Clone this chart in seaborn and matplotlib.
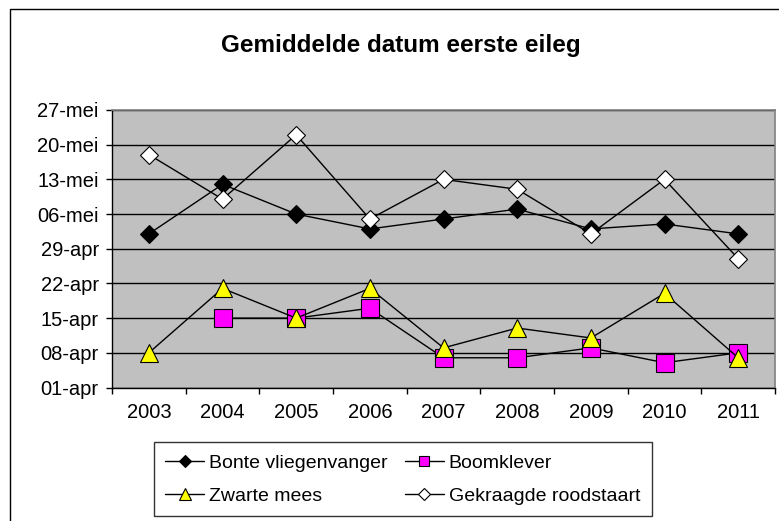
import seaborn as sns
import matplotlib.pyplot as plt
import pandas as pd
from matplotlib.patches import Rectangle

#Estilo
sns.set_theme(style="white")
plt.rcParams['font.family'] = ['Liberation Sans', 'DejaVu Sans']
plt.rcParams.update({'text.color': 'black', 'xtick.color': 'black',
                     'ytick.color': 'black', 'axes.labelcolor': 'black'})

#Dados (dias depois de 01-apr)
jaren = [2003, 2004, 2005, 2006, 2007, 2008, 2009, 2010, 2011]
bonte = [31, 41, 35, 32, 34, 36, 32, 33, 31]
boomklever = [None, 14, 14, 16, 6, 6, 8, 5, 7]
zwarte_mees = [7, 20, 14, 20, 8, 12, 10, 19, 6]
gekraagde = [47, 38, 51, 34, 42, 40, 31, 42, 26]
y_ticks = [0, 7, 14, 21, 28, 35, 42, 49, 56]
y_labels = ['01-apr', '08-apr', '15-apr', '22-apr', '29-apr',
            '06-mei', '13-mei', '20-mei', '27-mei']

df = pd.DataFrame({'jaar': jaren, 'Bonte vliegenvanger': bonte,
                   'Boomklever': boomklever, 'Zwarte mees': zwarte_mees,
                   'Gekraagde roodstaart': gekraagde})

fig = plt.figure(figsize=(7.79, 5.21), dpi=100)
ax = fig.add_axes([0.1438, 0.2562, 0.8511, 0.5327])
ax.set_facecolor('#C0C0C0')

#Series
stijlen = [('Bonte vliegenvanger', 'D', 'black', 9.5),
           ('Boomklever', 's', '#FF00FF', 12.5),
           ('Zwarte mees', '^', '#FFFF00', 13.5),
           ('Gekraagde roodstaart', 'D', 'white', 9.5)]
for naam, mk, kleur, ms in stijlen:
    sns.lineplot(data=df, x='jaar', y=naam, ax=ax, color='black', lw=1,
                 marker=mk, markersize=ms, markerfacecolor=kleur,
                 markeredgecolor='black', markeredgewidth=0.8,
                 label=naam, zorder=3)

#Assen
ax.set_xlim(2002.5, 2011.5)
ax.set_ylim(0, 56)
ax.set_xticks(jaren)
ax.set_xticklabels([str(j) for j in jaren])
ax.set_xticks([j + 0.5 for j in [2002] + jaren], minor=True)
ax.set_yticks(y_ticks)
ax.set_yticklabels(y_labels)
ax.tick_params(axis='x', which='major', length=0, pad=11, labelsize=14.5)
ax.tick_params(axis='x', which='minor', length=4.5, width=1, color='black',
               direction='out', bottom=True)
ax.tick_params(axis='y', length=4.5, width=1, color='black', direction='out',
               left=True, labelsize=14.5, pad=5)
ax.set_xlabel('')
ax.set_ylabel('')
ax.yaxis.grid(True, color='black', lw=1)
ax.set_axisbelow(True)
for s in ['left', 'bottom']:
    ax.spines[s].set_color('black')
    ax.spines[s].set_linewidth(1)
for s in ['top', 'right']:
    ax.spines[s].set_color('#808080')
    ax.spines[s].set_linewidth(1.2)

#Titel
fig.text(0.514, 0.913, 'Gemiddelde datum eerste eileg', ha='center',
         va='center', fontsize=17.5, fontweight='bold')

#Legenda
h, l = ax.get_legend_handles_labels()
ax.get_legend().remove()
volgorde = [0, 2, 1, 3]
leg = fig.legend([h[i] for i in volgorde], [l[i] for i in volgorde],
                 loc='center', bbox_to_anchor=(0.517, 0.08), ncol=2,
                 fontsize=14, frameon=True, fancybox=False, markerscale=0.6,
                 handlelength=2.0, handletextpad=0.25, columnspacing=0.9,
                 labelspacing=0.8, borderpad=0.6, borderaxespad=0)
leg.get_frame().set_edgecolor('black')
leg.get_frame().set_linewidth(1)

#Rand
fig.patches.append(Rectangle((10 / 779, -0.1), 1.2, (521 - 9) / 521 + 0.1,
                             transform=fig.transFigure, fill=False,
                             edgecolor='black', lw=1))

fig.savefig('out.png', dpi=100)
